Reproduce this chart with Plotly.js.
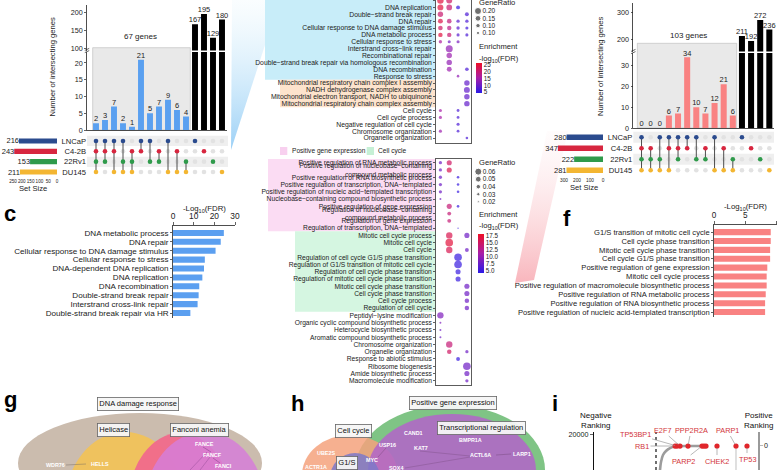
<!DOCTYPE html>
<html><head><meta charset="utf-8">
<script src="https://cdn.plot.ly/plotly-3.0.1.min.js"></script>
<style>html,body{margin:0;padding:0;background:#fff;}#chart{width:780px;height:470px;}</style>
</head><body><div id="chart"></div>
<script>
// ================= DATA =================
const setNames = ['LNCaP','C4-2B','22Rv1','DU145'];
const setColors = ['#2b4b8e','#d7263f','#2f9a4b','#f3b632'];

// left UpSet
const leftSetSizes = [216,243,153,211];
const leftCounts = [2,3,7,2,1,21,5,7,9,6,4,167,195,129,180];
const leftMember = [
  [1,1,1,1,0,1,1,0,1,0,0,1,0,0,0],
  [1,1,1,0,1,1,0,1,0,1,0,0,1,0,0],
  [1,1,0,1,1,0,1,1,0,0,1,0,0,1,0],
  [1,0,1,1,1,0,0,0,1,1,1,0,0,0,1]
];
const leftSharedLabel = '67 genes';
const leftSizeTicks = [250,200,150,100,50,0];

// right UpSet
const rightSetSizes = [280,347,222,281];
const rightCounts = [0,0,0,6,7,34,10,7,12,21,6,211,192,272,236];
const rightMember = [
  [1,0,1,1,1,1,1,0,1,0,0,1,0,0,0],
  [1,1,0,1,1,1,0,1,0,1,0,0,1,0,0],
  [1,1,1,0,1,0,1,1,0,0,1,0,0,1,0],
  [1,1,1,1,0,0,0,0,1,1,1,0,0,0,1]
];
const rightSharedLabel = '103 genes';
const rightSizeTicks = [300,200,100,0];
const nShared = 11;

// panel c
const cTerms = ['DNA metabolic process','DNA repair','Cellular response to DNA damage stimulus','Cellular response to stress','DNA-dependent DNA replication','DNA replication','DNA recombination','Double-strand break repair','Interstrand cross-link repair','Double-strand break repair via HR'];
const cValues = [24.6,23.1,20.6,15.4,15.0,14.2,12.7,12.4,11.9,8.4];

// panel f
const fTerms = ['G1/S transition of mitotic cell cycle','Cell cycle phase transition','Mitotic cell cycle phase transition','Cell cycle G1/S phase transition','Positive regulation of gene expression','Mitotic cell cycle process','Positive regulation of macromolecule biosynthetic process','Positive regulation of RNA metabolic process','Positive regulation of RNA biosynthetic process','Positive regulation of nucleic acid-templated transcription'];
const fValues = [9.05,9.05,8.95,8.95,8.5,8.4,8.4,8.25,8.15,8.15];

// middle top dot plot
const topTerms = ['DNA−dependent DNA replication','DNA replication','Double−strand break repair','DNA repair','Cellular response to DNA damage stimulus','DNA metabolic process','Cellular response to stress','Interstrand cross−link repair','Recombinational repair','Double−strand break repair via homologous recombination','DNA recombination','Response to stress','Mitochondrial respiratory chain complex I assembly','NADH dehydrogenase complex assembly','Mitochondrial electron transport, NADH to ubiquinone','Mitochondrial respiratory chain complex assembly','Cell cycle','Cell cycle process','Negative regulation of cell cycle','Chromosome organization','Organelle organization'];
const topRatio = [
  [0.18,0.16,null,null],[0.16,0.15,0.08,null],[0.14,null,null,0.08],[0.12,0.11,0.06,0.06],
  [0.11,0.10,0.06,0.05],[0.10,0.10,0.05,0.05],[0.06,0.05,0.05,null],[null,0.20,null,null],
  [null,0.14,null,null],[null,0.14,null,null],[null,0.12,null,0.07],[null,null,0.03,null],
  [null,null,null,0.14],[null,null,null,0.16],[null,null,null,0.14],[null,null,null,0.14],
  [0.05,null,0.04,null],[0.05,null,0.04,null],[null,null,0.05,null],[0.05,null,0.04,null],
  [null,null,null,0.03]
];
const topFdr = [
  [24,21,null,null],[24,20,5,null],[20,null,null,7],[23,19,8,7],
  [21,18,8,6],[24,20,8,7],[16,10,11,null],[null,13,null,null],
  [null,14,null,null],[null,13,null,null],[null,14,null,7],[null,null,13,null],
  [null,null,null,9],[null,null,null,9],[null,null,null,9],[null,null,null,9],
  [15,null,7,null],[15,null,7,null],[null,null,7,null],[14,null,7,null],
  [null,null,null,7]
];
const topLegendVals = [0.20,0.15,0.10,0.05];
const topLegendLabels = ['0.20','0.15','0.10','0.10'];
const topFdrTicks = [5,10,15,20,25];

// middle bottom dot plot
const botTerms = ['Positive regulation of RNA metabolic process','Positive regulation of nucleobase−containing<br>compound metabolic process','Positive regulation of RNA biosynthetic process','Positive regulation of transcription, DNA−templated','Positive regulation of nucleic acid−templated transcription','Nucleobase−containing compound biosynthetic process','Positive regulation of gene expression','Regulation of nucleobase−containing<br>compound metabolic process','Regulation of gene expression','Regulation of transcription, DNA−templated','Mitotic cell cycle process','Mitotic cell cycle','Cell cycle','Regulation of cell cycle G1/S phase transition','Regulation of G1/S transition of mitotic cell cycle','Regulation of cell cycle phase transition','Regulation of mitotic cell cycle phase transition','Mitotic cell cycle phase transition','Cell cycle phase transition','Cell cycle process','Regulation of cell cycle','Peptidyl−lysine modification','Organic cyclic compound biosynthetic process','Heterocycle biosynthetic process','Aromatic compound biosynthetic process','Chromosome organization','Organelle organization','Response to abiotic stimulus','Ribosome biogenesis','Amide biosynthetic process','Macromolecule modification'];
const botRatio = [
  [0.03,0.045,null,null],[0.03,0.045,null,null],[0.03,null,0.025,null],[0.03,null,0.025,null],
  [0.03,null,0.025,null],[0.02,null,null,null],[null,0.045,0.025,null],[null,0.035,null,null],
  [null,0.035,null,null],[null,null,0.015,null],[null,0.055,null,0.045],[null,0.065,null,null],
  [null,0.055,null,0.035],[null,null,0.065,null],[null,null,0.065,null],[null,null,0.045,null],
  [null,null,0.045,null],[null,null,null,0.045],[null,null,null,0.045],[null,null,null,0.04],
  [null,null,null,0.04],[0.055,null,null,null],[0.02,null,null,null],[0.02,null,null,null],
  [0.02,null,null,null],[null,0.055,null,null],[null,0.04,null,0.03],[null,null,0.035,null],
  [null,null,null,0.065],[null,null,null,0.045],[null,null,null,0.03]
];
const botFdr = [
  [8,15,null,null],[8,16,null,null],[8,null,5,null],[8,null,5,null],
  [8,null,5,null],[8,null,null,null],[null,14,5,null],[null,14,null,null],
  [null,14,null,null],[null,null,5,null],[null,16,null,8],[null,17,null,null],
  [null,16,null,8],[null,null,5,null],[null,null,5,null],[null,null,5,null],
  [null,null,5,null],[null,null,null,8],[null,null,null,8],[null,null,null,8],
  [null,null,null,8],[9,null,null,null],[9,null,null,null],[8,null,null,null],
  [8,null,null,null],[null,14,null,null],[null,15,null,8],[null,null,5,null],
  [null,null,null,8],[null,null,null,8],[null,null,null,8]
];
const botLegendVals = [0.06,0.05,0.04,0.03,0.02];
const botLegendLabels = ['0.06','0.05','0.04','0.03','0.02'];
const botFdrTicks = [5,7.5,10,12.5,15,17.5];
const botFdrTickText = ['5.0','7.5','10.0','12.5','15.0','17.5'];

// panel i
const iGenes = ['RB1','TP53BP1','E2F7','PPP2R2A','PARP2','','','CHEK2','PARP1','TP53'];
const iScore = [81,83,86,94,108,110,112,123,142,153];
const iRank  = [18330,18330,18330,18330,18330,18330,18330,18330,18330,18330];
const iCurveScore = [66,67,69,72,76,81,96,112];
const iCurveRank  = [15000,16100,17080,17640,18050,18260,18330,18340];
const iLeftTicks = [15000,20000];
const iRightTicks = [0];

// ================= LAYOUT HELPERS =================
const F = 'Liberation Sans, Arial, Helvetica, sans-serif';
const W = 780, H = 470;
const X = p => p / W, Y = p => 1 - p / H;
const xd = (a, b) => [X(a), X(b)];
const yd = (t, b) => [Y(b), Y(t)];
function A(o) {
  const base = {showgrid:false, zeroline:false, showline:false, ticks:'', showticklabels:false, fixedrange:true,
    tickfont:{family:F, size:7.2, color:'#222'}, linecolor:'#222', linewidth:0.8, tickcolor:'#222', tickwidth:0.7};
  const r = Object.assign(base, o);
  if (o.tickfont) r.tickfont = Object.assign({family:F, color:'#222'}, o.tickfont);
  return r;
}
const idx = n => Array.from({length:n}, (_, i) => i);
const sizeTop = r => 1.8 + 26 * r;
const sizeBot = r => -0.5 + 125 * r;
const fdrScale = [[0,'#2a1ae6'],[0.5,'#a81fa8'],[1,'#ee1026']];

const traces = [];
const shapes = [];
const annos = [];

function rect(x0, y0, x1, y1, fill, line, layer) {
  shapes.push({type:'rect', xref:'paper', yref:'paper', x0:X(x0), x1:X(x1), y0:Y(y1), y1:Y(y0),
    fillcolor:fill, line:line || {width:0}, layer:layer || 'below'});
}
function ell(cx, cy, rx, ry, fill, op) {
  shapes.push({type:'circle', xref:'paper', yref:'paper', x0:X(cx-rx), x1:X(cx+rx), y0:Y(cy+ry), y1:Y(cy-ry),
    fillcolor:fill, opacity:op || 1, line:{width:0}, layer:'below'});
}
function seg(x0, y0, x1, y1, color, w, dash) {
  shapes.push({type:'line', xref:'paper', yref:'paper', x0:X(x0), x1:X(x1), y0:Y(y0), y1:Y(y1),
    line:{color:color, width:w || 0.7, dash:dash || 'solid'}, layer:'above'});
}
function T(text, x, y, o) {
  annos.push(Object.assign({text:text, xref:'paper', yref:'paper', x:X(x), y:Y(y), showarrow:false,
    xanchor:'center', yanchor:'middle', font:{family:F, size:7.5, color:'#222'}}, o || {}));
}

// ================= TRACES =================
traces.push({type:'scatter', xaxis:'x', yaxis:'y', x:[232,265,265,231], y:[0,0,45,150], fill:'toself', mode:'none',
  fillgradient:{type:'vertical', colorscale:[[0,'rgba(130,196,244,0.8)'],[1,'rgba(205,236,250,0.1)']]}, hoverinfo:'skip'});
traces.push({type:'scatter', xaxis:'x', yaxis:'y', x:[547,568,534,515], y:[131,131,280,283], fill:'toself', mode:'none',
  fillgradient:{type:'vertical', colorscale:[[0,'rgba(246,150,160,0.7)'],[1,'rgba(252,225,228,0.1)']]}, hoverinfo:'skip'});

function upset(counts, member, sizes, barColor, ax) {
  const all = idx(counts.length);
  const sh = all.slice(0, nShared), si = all.slice(nShared);
  const tf = {family:F, size:7.5, color:'#222'};
  traces.push({type:'bar', x:sh, y:sh.map(i => counts[i]), xaxis:ax.x, yaxis:ax.lo, marker:{color:barColor}, width:0.66, hoverinfo:'skip'});
  traces.push({type:'bar', x:si, y:si.map(i => counts[i]), xaxis:ax.x, yaxis:ax.lo, marker:{color:'#000'}, width:0.66, hoverinfo:'skip'});
  traces.push({type:'bar', x:si, y:si.map(i => counts[i]), xaxis:ax.x, yaxis:ax.hi, marker:{color:'#000'}, width:0.66, hoverinfo:'skip'});
  traces.push({type:'scatter', mode:'text', x:sh, y:sh.map(i => counts[i]), text:sh.map(i => String(counts[i])), textposition:'top center',
    textfont:tf, xaxis:ax.x, yaxis:ax.lo, cliponaxis:false, hoverinfo:'skip'});
  traces.push({type:'scatter', mode:'text', x:si, y:si.map(i => counts[i]), text:si.map(i => String(counts[i])), textposition:'top center',
    textfont:tf, xaxis:ax.x, yaxis:ax.hi, cliponaxis:false, hoverinfo:'skip'});
  const gx = [], gy = [], mx = [], my = [], mc = [], lx = [], ly = [];
  all.forEach(c => {
    const rows = [];
    member.forEach((row, r) => { if (row[c]) { rows.push(r); mx.push(c); my.push(r); mc.push(setColors[r]); } else { gx.push(c); gy.push(r); } });
    if (rows.length > 1) { lx.push(c, c, null); ly.push(Math.min(...rows), Math.max(...rows), null); }
  });
  traces.push({type:'scatter', mode:'markers', x:gx, y:gy, xaxis:ax.x, yaxis:ax.mat, marker:{color:'#e2e2e2', size:4.6}, hoverinfo:'skip'});
  traces.push({type:'scatter', mode:'lines', x:lx, y:ly, xaxis:ax.x, yaxis:ax.mat, line:{color:'#3a3a3a', width:0.9}, hoverinfo:'skip'});
  traces.push({type:'scatter', mode:'markers', x:mx, y:my, xaxis:ax.x, yaxis:ax.mat, marker:{color:mc, size:4.6}, hoverinfo:'skip'});
  traces.push({type:'bar', orientation:'h', x:sizes, y:idx(sizes.length), xaxis:ax.size, yaxis:ax.mat, marker:{color:setColors}, width:0.5,
    text:sizes.map(String), textposition:'outside', cliponaxis:false, constraintext:'none', textfont:tf, hoverinfo:'skip'});
}
upset(leftCounts, leftMember, leftSetSizes, '#5aa0f0', {x:'x2', lo:'y2', hi:'y3', mat:'y4', size:'x3'});

traces.push({type:'bar', orientation:'h', x:cValues, y:cTerms, xaxis:'x4', yaxis:'y5', marker:{color:'#5b9ff0'}, width:0.68, hoverinfo:'skip'});
traces.push({type:'bar', orientation:'h', x:fValues, y:fTerms, xaxis:'x5', yaxis:'y6', marker:{color:'#f98282'}, width:0.68, hoverinfo:'skip'});

function dots(ratio, fdr) {
  const xs = [], ys = [], r = [], c = [];
  ratio.forEach((row, i) => row.forEach((v, j) => { if (v != null) { xs.push(j + 1); ys.push(i); r.push(v); c.push(fdr[i][j]); } }));
  return {xs, ys, r, c};
}
const td = dots(topRatio, topFdr);
traces.push({type:'scatter', mode:'markers', x:td.xs, y:td.ys, xaxis:'x6', yaxis:'y7', hoverinfo:'skip',
  marker:{size:td.r.map(sizeTop), color:td.c, colorscale:fdrScale, cmin:4, cmax:26, showscale:true, line:{width:0},
    colorbar:{x:X(476), xanchor:'left', y:Y(78.5), yanchor:'middle', len:30/H, lenmode:'fraction', thickness:6, thicknessmode:'pixels',
      outlinewidth:0, tickvals:topFdrTicks, ticks:'', tickfont:{family:F, size:6.3, color:'#222'}, xpad:0, ypad:0}}});
const bd = dots(botRatio, botFdr);
traces.push({type:'scatter', mode:'markers', x:bd.xs, y:bd.ys, xaxis:'x7', yaxis:'y8', hoverinfo:'skip',
  marker:{size:bd.r.map(sizeBot), color:bd.c, colorscale:fdrScale, cmin:4.3, cmax:18.2, showscale:true, line:{width:0},
    colorbar:{x:X(478), xanchor:'left', y:Y(253.5), yanchor:'middle', len:39/H, lenmode:'fraction', thickness:6, thicknessmode:'pixels',
      outlinewidth:0, tickvals:botFdrTicks, ticktext:botFdrTickText, ticks:'', tickfont:{family:F, size:6.3, color:'#222'}, xpad:0, ypad:0}}});
traces.push({type:'scatter', mode:'markers', x:topLegendVals.map(() => 0), y:idx(topLegendVals.length), xaxis:'x8', yaxis:'y9',
  marker:{color:'#333', size:topLegendVals.map(sizeTop)}, hoverinfo:'skip'});
traces.push({type:'scatter', mode:'markers', x:botLegendVals.map(() => 0), y:idx(botLegendVals.length), xaxis:'x9', yaxis:'y10',
  marker:{color:'#333', size:botLegendVals.map(sizeBot)}, hoverinfo:'skip'});

upset(rightCounts, rightMember, rightSetSizes, '#f98282', {x:'x10', lo:'y11', hi:'y12', mat:'y13', size:'x11'});

// panel i
traces.push({type:'scatter', mode:'lines', x:iCurveScore, y:iCurveRank, xaxis:'x12', yaxis:'y14', line:{color:'#9c9c9c', width:2.6, shape:'spline'}, hoverinfo:'skip'});
traces.push({type:'scatter', mode:'lines', x:[142,142], y:[17900,15000], xaxis:'x12', yaxis:'y14', line:{color:'#d8d8d8', width:1.6}, hoverinfo:'skip'});
traces.push({type:'scatter', mode:'markers', x:iScore, y:iRank, xaxis:'x12', yaxis:'y14', marker:{color:'#e0262b', size:5.2}, hoverinfo:'skip'});
traces.push({type:'scatter', mode:'markers', x:[0], y:[0], xaxis:'x12', yaxis:'y15', marker:{opacity:0, size:1}, hoverinfo:'skip'});
const iOff = {RB1:[-33,0], TP53BP1:[-42,-12], E2F7:[-18,-16], PPP2R2A:[3,-16], PARP2:[-19,15], CHEK2:[0,15], PARP1:[-9,-16], TP53:[0,13]};
iGenes.forEach((g, k) => {
  if (!g) return;
  annos.push({text:g, xref:'x12', yref:'y14', x:iScore[k], y:iRank[k], showarrow:true, arrowhead:0, arrowwidth:0.7, arrowcolor:'#999',
    ax:iOff[g][0], ay:iOff[g][1], standoff:2, font:{family:F, size:7.3, color:'#d2353a'}});
});

// ================= SHAPES =================
rect(265, 0, 435.7, 79.7, '#c8edf9');
rect(280, 79.7, 435.7, 107.3, '#fde3cc');
rect(268, 159, 435.7, 231.3, '#fbdcf3');
rect(295, 231.3, 435.7, 311.7, '#d5f6e1');
rect(280, 147, 287.3, 155, '#f8d0ef');
rect(366.7, 147, 374, 155, '#c6f0d5');
rect(92.7, 47.7, 190.3, 130, '#e9e9e9', {color:'#b8b8b8', width:0.6});
rect(637.3, 43.3, 736.7, 128, '#e9e9e9', {color:'#b8b8b8', width:0.6});
rect(87, 135.8, 228, 146.1, '#efefef');
rect(87, 156.8, 228, 167.1, '#efefef');
rect(633.3, 131.8, 774, 142.8, '#efefef');
rect(633.3, 153.8, 774, 164.8, '#efefef');
seg(84.8, 52.6, 89.2, 50.6, '#222', 0.7); seg(84.8, 50.4, 89.2, 48.4, '#222', 0.7);
seg(631.1, 53.6, 635.5, 51.6, '#222', 0.7); seg(631.1, 51.4, 635.5, 49.4, '#222', 0.7);

ell(140, 463, 122, 50, '#cbbcae');
ell(125, 505, 60, 73, '#efc25e');
ell(180, 505, 52, 72, '#f06a8b', 0.95);
ell(205, 505, 60, 73, '#d67ed8', 0.85);
ell(450, 470, 95, 65, '#7fc485');
ell(350, 475, 48, 40, '#f4a27c', 0.85);
ell(452, 470, 84, 56, '#b266c7', 0.88);
ell(355, 478, 25, 25, '#7d79c9', 0.85);
seg(203, 447, 211, 452, 'rgba(110,50,120,0.7)', 0.6); seg(213, 458, 220, 463, 'rgba(110,50,120,0.7)', 0.6);
seg(207, 452, 190, 470, 'rgba(110,50,120,0.5)', 0.6); seg(210, 457, 200, 470, 'rgba(110,50,120,0.5)', 0.6);
seg(66, 465, 86, 464, 'rgba(120,110,100,0.8)', 0.6);
seg(378, 457, 386, 448, 'rgba(90,50,90,0.5)', 0.6); seg(496, 455, 511, 454, 'rgba(90,50,90,0.5)', 0.6);
seg(405, 468, 470, 457, 'rgba(90,50,90,0.4)', 0.6); seg(420, 451, 470, 456, 'rgba(90,50,90,0.4)', 0.6);
shapes.push({type:'line', xref:'x12', yref:'paper', x0:62, x1:62, y0:Y(470), y1:Y(432), line:{color:'#111', width:1.2, dash:'dot'}});

// ================= ANNOTATIONS =================
const big = (t, x, y) => T(t, x, y, {xanchor:'left', font:{family:F, size:22, color:'#000'}});
big('<b>c</b>', 2, 213.4); big('<b>f</b>', 561, 218.4); big('<b>g</b>', 2, 399); big('<b>h</b>', 289, 403.4); big('<b>i</b>', 550, 403.4);

T(leftSharedLabel, 140, 36.7, {font:{family:F, size:8, color:'#222'}});
T(rightSharedLabel, 688, 35, {font:{family:F, size:8, color:'#222'}});
T('Number of intersecting genes', 51.5, 67, {textangle:-90, font:{family:F, size:7.6, color:'#222'}});
T('Number of intersecting genes', 600, 67, {textangle:-90, font:{family:F, size:7.6, color:'#222'}});
T('Set Size', 33, 188.3, {font:{family:F, size:7.6, color:'#222'}});
T('Set Size', 584, 187, {font:{family:F, size:7.6, color:'#222'}});
T('-Log<sub>10</sub>(FDR)', 204, 208.5, {font:{family:F, size:7.8, color:'#222'}});
T('-Log<sub>10</sub>(FDR)', 745, 207.5, {font:{family:F, size:7.8, color:'#222'}});

T('GeneRatio', 476.5, 2, {xanchor:'left', font:{family:F, size:7.6, color:'#222'}});
T('Enrichment', 476.5, 46.2, {xanchor:'left', font:{family:F, size:7.6, color:'#222'}});
T('-log<sub>10</sub>(FDR)', 476.5, 58.8, {xanchor:'left', font:{family:F, size:7.6, color:'#222'}});
T('GeneRatio', 476.5, 162.7, {xanchor:'left', font:{family:F, size:7.6, color:'#222'}});
T('Enrichment', 476.5, 214.5, {xanchor:'left', font:{family:F, size:7.6, color:'#222'}});
T('-log<sub>10</sub>(FDR)', 476.5, 225.5, {xanchor:'left', font:{family:F, size:7.6, color:'#222'}});
T('Positive gene expression', 289.5, 151, {xanchor:'left', font:{family:F, size:6.6, color:'#222'}});
T('Cell cycle', 376, 151, {xanchor:'left', font:{family:F, size:6.6, color:'#222'}});

const box = {bgcolor:'rgba(246,246,246,0.95)', bordercolor:'#666', borderwidth:0.8, borderpad:1.5, font:{family:F, size:7.5, color:'#111'}};
T('DNA damage response', 138, 404, box);
T('Helicase', 113.5, 429.5, box);
T('Fanconi anemia', 199.5, 429.5, box);
T('Positive gene expression', 452.5, 402.5, box);
T('Cell cycle', 353, 430.5, box);
T('Transcriptional regulation', 481, 427.5, box);
T('G1/S', 346.5, 462.5, box);

const gene = (t, x, y) => T('<b>' + t + '</b>', x, y, {font:{family:F, size:5.4, color:'#fff'}});
gene('WDR76', 56, 465); gene('HELLS', 100, 463.5); gene('FANCE', 204, 443.5); gene('FANCF', 213, 455); gene('FANCI', 223, 466);
gene('UBE2S', 326, 452.5); gene('ACTR1A', 316, 467); gene('USP16', 387, 444.5); gene('CAND1', 413, 432.5); gene('KAT7', 421, 448);
gene('BMPR1A', 470, 440); gene('ACTL6A', 480, 455); gene('LARP1', 522, 454); gene('MYC', 372, 460); gene('SOX4', 396, 468);

T('Negative<br>Ranking', 596, 420.5, {font:{family:F, size:8, color:'#111'}});
T('Positive<br>Ranking', 758, 420.5, {font:{family:F, size:8, color:'#111'}});

// ================= LAYOUT =================
const layout = {
  width:W, height:H, margin:{l:0, r:0, t:0, b:0}, paper_bgcolor:'#fff', plot_bgcolor:'rgba(0,0,0,0)',
  showlegend:false, barmode:'overlay', font:{family:F, size:7.5, color:'#222'},
  xaxis:A({domain:[0,1], range:[0,780], anchor:'y', visible:false}),
  yaxis:A({domain:[0,1], range:[470,0], anchor:'x', visible:false}),
  xaxis2:A({domain:xd(87,226.5), range:[-1,14.5], anchor:'y2', showline:true}),
  yaxis2:A({domain:yd(52,130), range:[0,23.28], anchor:'x2', showline:true, ticks:'outside', ticklen:2, tickvals:[0,5,10,15,20], showticklabels:true}),
  yaxis3:A({domain:yd(5,50.5), range:[93.9,220.3], anchor:'x2', showline:true, ticks:'outside', ticklen:2, tickvals:[100,150,200], showticklabels:true}),
  yaxis4:A({domain:yd(135.8,177.2), range:[3.5,-0.5], anchor:'x2', tickvals:[0,1,2,3], ticktext:setNames, showticklabels:true, tickfont:{size:7.6}}),
  xaxis3:A({domain:xd(13,57), range:[250,0], anchor:'y4', tickvals:leftSizeTicks, ticktext:leftSizeTicks.map(String), tickangle:0, showticklabels:true, tickfont:{size:4.6}}),
  xaxis4:A({domain:xd(173,235), range:[0,30], side:'top', anchor:'y5', showline:true, ticks:'outside', ticklen:3, tickvals:[0,10,20,30], showticklabels:true, tickfont:{size:8.4}}),
  yaxis5:A({domain:yd(226,317.5), range:[9.5,-0.78], type:'category', anchor:'x4', showline:true, ticks:'outside', ticklen:2,
    tickmode:'array', tickvals:cTerms, ticktext:cTerms, showticklabels:true, tickfont:{size:8.1}}),
  xaxis5:A({domain:xd(714,776.7), range:[0,10], side:'top', anchor:'y6', showline:true, ticks:'outside', ticklen:3, tickvals:[0,5,10], showticklabels:true, tickfont:{size:8.2}}),
  yaxis6:A({domain:yd(225,316.5), range:[9.5,-0.8], type:'category', anchor:'x5', showline:true, ticks:'outside', ticklen:2,
    tickmode:'array', tickvals:fTerms, ticktext:fTerms, showticklabels:true, tickfont:{size:7.6}}),
  xaxis6:A({domain:xd(436,471.3), range:[0.5,4.5], anchor:'y7', showline:true, linecolor:'#333'}),
  yaxis7:A({domain:yd(0,143), range:[20.727,-0.073], anchor:'x6', showline:true, mirror:true, linecolor:'#333', ticks:'outside', ticklen:2,
    tickvals:idx(topTerms.length), ticktext:topTerms, showticklabels:true, tickfont:{size:6.8}}),
  xaxis7:A({domain:xd(436,471.3), range:[0.5,4.5], anchor:'y8', showline:true, mirror:true, linecolor:'#333'}),
  yaxis8:A({domain:yd(159,385), range:[30.58,-0.51], anchor:'x7', showline:true, mirror:true, linecolor:'#333', ticks:'outside', ticklen:2,
    tickvals:idx(botTerms.length), ticktext:botTerms, showticklabels:true, tickfont:{size:6.7}}),
  xaxis8:A({domain:xd(474.5,481.5), range:[-1,1], anchor:'y9'}),
  yaxis9:A({domain:yd(7.35,36.65), range:[3.5,-0.5], anchor:'x8', side:'right', tickvals:idx(4), ticktext:topLegendLabels, showticklabels:true, tickfont:{size:6.5}}),
  xaxis9:A({domain:xd(474.8,481.8), range:[-1,1], anchor:'y10'}),
  yaxis10:A({domain:yd(167.9,205.5), range:[4.5,-0.5], anchor:'x9', side:'right', tickvals:idx(5), ticktext:botLegendLabels, showticklabels:true, tickfont:{size:6.5}}),
  xaxis10:A({domain:xd(633.3,773.9), range:[-0.9,14.5], anchor:'y11', showline:true}),
  yaxis11:A({domain:yd(53,128), range:[0,36.1], anchor:'x10', showline:true, ticks:'outside', ticklen:2, tickvals:[0,10,20,30], showticklabels:true}),
  yaxis12:A({domain:yd(3,51.5), range:[152.5,336.9], anchor:'x10', showline:true, ticks:'outside', ticklen:2, tickvals:[200,300], showticklabels:true}),
  yaxis13:A({domain:yd(131.8,175.8), range:[3.5,-0.5], anchor:'x10', tickvals:[0,1,2,3], ticktext:setNames, showticklabels:true, tickfont:{size:7.6}}),
  xaxis11:A({domain:xd(557,603), range:[353.8,0], anchor:'y13', tickvals:rightSizeTicks, ticktext:rightSizeTicks.map(String), tickangle:0, showticklabels:true, tickfont:{size:4.8}}),
  xaxis12:A({domain:xd(594,758), range:[0,164], anchor:'y14'}),
  yaxis14:A({domain:yd(432,470), range:[15000,20278], anchor:'x12', showline:true, linecolor:'#111', linewidth:1, ticks:'outside', ticklen:3,
    tickvals:iLeftTicks, ticktext:iLeftTicks.map(String), showticklabels:true, tickfont:{size:7.2}}),
  yaxis15:A({overlaying:'y14', side:'right', anchor:'x12', range:[3473,-1805], showline:true, linecolor:'#9a9a9a', linewidth:1.6,
    ticks:'outside', ticklen:3, tickcolor:'#9a9a9a', tickvals:iRightTicks, ticktext:iRightTicks.map(String), showticklabels:true, tickfont:{size:7.2}}),
  shapes:shapes, annotations:annos
};

Plotly.newPlot('chart', traces, layout, {staticPlot:true, displayModeBar:false});
</script>
</body></html>
